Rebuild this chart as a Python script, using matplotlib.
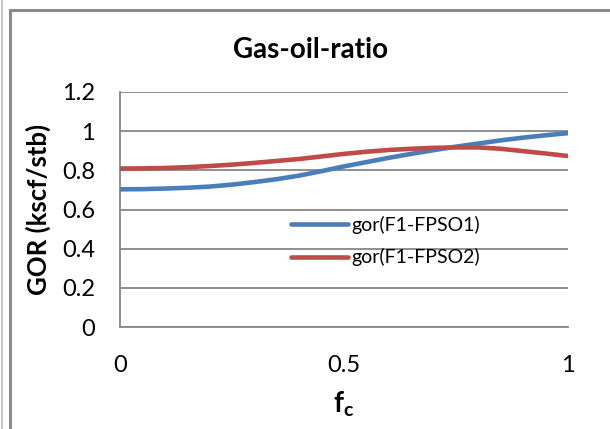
"""Gas-oil-ratio vs f_c for two FPSO cases."""

import matplotlib.pyplot as plt
from matplotlib.lines import Line2D

plt.rcParams["font.family"] = ["Lato", "DejaVu Sans"]
plt.rcParams["mathtext.fontset"] = "custom"
plt.rcParams["mathtext.bf"] = "Lato:bold"
plt.rcParams["mathtext.rm"] = "Lato"

fc = [0.0, 0.05, 0.1, 0.15, 0.2, 0.25, 0.3, 0.35, 0.4, 0.45, 0.5,
      0.55, 0.6, 0.65, 0.7, 0.75, 0.8, 0.85, 0.9, 0.95, 1.0]
gor_fpso1 = [0.703, 0.704, 0.707, 0.711, 0.717, 0.727, 0.740, 0.755, 0.773, 0.796, 0.820,
             0.842, 0.864, 0.884, 0.903, 0.921, 0.937, 0.953, 0.967, 0.979, 0.990]
gor_fpso2 = [0.809, 0.810, 0.812, 0.816, 0.822, 0.829, 0.838, 0.848, 0.858, 0.871, 0.884,
             0.895, 0.904, 0.910, 0.915, 0.917, 0.917, 0.910, 0.898, 0.886, 0.873]
series_labels = ["gor(F1-FPSO1)", "gor(F1-FPSO2)"]
yticks = [0, 0.2, 0.4, 0.6, 0.8, 1.0, 1.2]
ytick_labels = ["0", "0.2", "0.4", "0.6", "0.8", "1", "1.2"]
xticks = [0, 0.5, 1]
xtick_labels = ["0", "0.5", "1"]

W, H = 610, 429
fig = plt.figure(figsize=(W / 100, H / 100), dpi=100)
ax = fig.add_axes([120 / W, 1 - 327 / H, 448 / W, 235 / H])

grey = "#878787"
blue = "#4A7EBB"
red = "#BE4B48"

ax.plot(fc, gor_fpso1, color=blue, lw=3.3, solid_capstyle="round",
        solid_joinstyle="round", label=series_labels[0], zorder=3)
ax.plot(fc, gor_fpso2, color=red, lw=3.3, solid_capstyle="round",
        solid_joinstyle="round", label=series_labels[1], zorder=3)

ax.set_xlim(0, 1)
ax.set_ylim(0, 1.2)
ax.set_yticks(yticks, ytick_labels)
ax.set_xticks(xticks, xtick_labels)
ax.tick_params(axis="both", length=0, labelsize=17, colors="black")
ax.tick_params(axis="y", pad=18)
ax.tick_params(axis="x", pad=20)
ax.grid(axis="y", color=grey, lw=1.3)
ax.set_axisbelow(True)
for s in ["top", "right"]:
    ax.spines[s].set_visible(False)
for s in ["left", "bottom"]:
    ax.spines[s].set_color(grey)
    ax.spines[s].set_linewidth(1.3)

# the title sits centred on the whole chart, not on the plot area
fig.text(311 / W, 1 - 50 / H, "Gas-oil-ratio", fontsize=20, fontweight="bold",
         ha="center", va="center")
ax.set_ylabel("GOR (kscf/stb)", fontsize=18.5, fontweight="bold", labelpad=8)
ax.set_xlabel(r"$\mathbf{f_c}$", fontsize=20, labelpad=10)

ax.legend(loc="upper left", bbox_to_anchor=(0.382, 0.474), frameon=False,
          fontsize=14, handlelength=2.95, handletextpad=0.15, labelspacing=0.75,
          borderaxespad=0, borderpad=0)

# outer chart frame
fig.add_artist(Line2D([9.5 / W, 1], [1 - 9.5 / H] * 2, transform=fig.transFigure,
                      color="#8a8a8a", lw=2.2))
fig.add_artist(Line2D([9.5 / W] * 2, [0, 1 - 9.5 / H], transform=fig.transFigure,
                      color="#8a8a8a", lw=2.2))
fig.add_artist(Line2D([1.5 / W] * 2, [0, 1], transform=fig.transFigure,
                      color="#c8c8c8", lw=1.5))

fig.savefig("out.png", dpi=100)
